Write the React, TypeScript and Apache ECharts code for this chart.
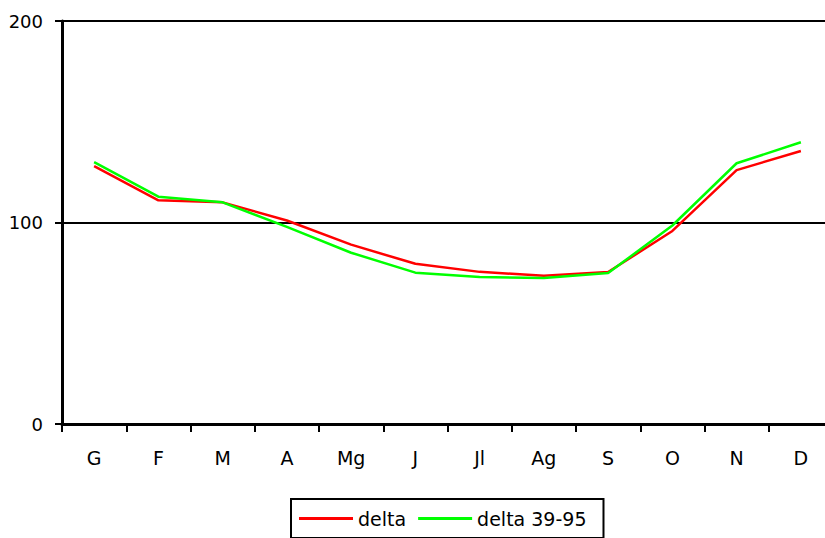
import React, { useEffect, useRef } from "react";
import * as echarts from "echarts";

const categories = ["G", "F", "M", "A", "Mg", "J", "Jl", "Ag", "S", "O", "N", "D"];
const delta = [128, 111, 110, 101, 89, 79.5, 75.5, 73.6, 75.4, 95.8, 126, 135.5];
const delta3995 = [130, 112.8, 110, 97.8, 85, 75.1, 73, 72.4, 74.9, 98.5, 129.4, 139.8];
const yTicks = { min: 0, max: 200, interval: 100 };

export default function App() {
  const ref = useRef<HTMLDivElement>(null);
  useEffect(() => {
    if (!ref.current) return;
    const chart = echarts.init(ref.current, undefined, { renderer: "svg" });
    const font = "DejaVu Sans";
    chart.setOption({
      animation: false,
      backgroundColor: "#ffffff",
      grid: { left: 62, top: 21, right: 0, bottom: 114, containLabel: false },
      xAxis: {
        type: "category",
        data: categories,
        boundaryGap: true,
        axisLine: { lineStyle: { color: "#000", width: 3 } },
        axisTick: { show: true, length: 8, lineStyle: { color: "#000", width: 2 } },
        axisLabel: { color: "#000", fontFamily: font, fontSize: 19, margin: 24, interval: 0 },
        splitLine: { show: false },
      },
      yAxis: {
        type: "value",
        min: yTicks.min,
        max: yTicks.max,
        interval: yTicks.interval,
        axisLine: { show: true, lineStyle: { color: "#000", width: 3 } },
        axisTick: { show: true, length: 7, lineStyle: { color: "#000", width: 2 } },
        axisLabel: { color: "#000", fontFamily: font, fontSize: 18, margin: 19 },
        splitLine: { show: true, lineStyle: { color: "#000", width: 2 } },
      },
      legend: {
        left: 291,
        top: 499,
        orient: "horizontal",
        icon: "rect",
        itemWidth: 54,
        itemHeight: 3,
        itemGap: 12,
        borderColor: "#000",
        borderWidth: 2,
        borderRadius: 0,
        padding: [10, 17, 10, 8],
        textStyle: { color: "#000", fontFamily: font, fontSize: 19 },
        data: ["delta", "delta 39-95"],
      },
      series: [
        {
          name: "delta",
          type: "line",
          data: delta,
          symbol: "none",
          color: "#ff0000",
          lineStyle: { color: "#ff0000", width: 2.5 },
        },
        {
          name: "delta 39-95",
          type: "line",
          data: delta3995,
          symbol: "none",
          color: "#00ff00",
          lineStyle: { color: "#00ff00", width: 2.5 },
        },
      ],
    });
    return () => chart.dispose();
  }, []);
  return (
    <div
      style={{ position: "absolute", left: 0, top: 0, width: 825, height: 538, overflow: "hidden", background: "#fff" }}
    >
      <div ref={ref} style={{ width: 833, height: 538 }} />
    </div>
  );
}
